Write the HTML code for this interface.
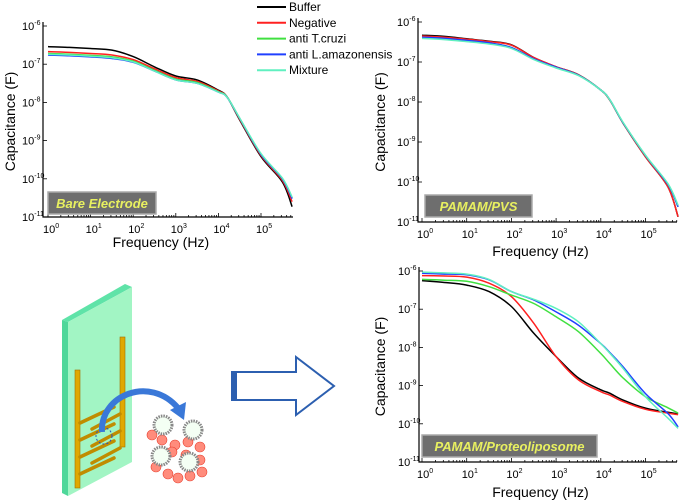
<!DOCTYPE html>
<html><head><meta charset="utf-8"><style>
html,body{margin:0;padding:0;background:#fff;width:685px;height:504px;overflow:hidden;}
svg{display:block;font-family:"Liberation Sans",sans-serif;}
</style></head><body>
<svg id="fig" width="685" height="504" viewBox="0 0 685 504" xmlns="http://www.w3.org/2000/svg">
<g id="illus">
  <polygon points="62,320 125,284 132,287 68,322" fill="#5fe3a8"/>
  <polygon points="62,320 68,322 68,496 62,493" fill="#4fd79a"/>
  <polygon points="68,322 132,287 132,462 68,496" fill="#a2f5c4"/>
  <rect x="75" y="370" width="5" height="118" fill="#e0a800" stroke="#a07000" stroke-width="0.6"/>
  <rect x="120" y="337" width="5" height="110" fill="#e0a800" stroke="#a07000" stroke-width="0.6"/>
  <g stroke="#c08c00" stroke-width="3.5" stroke-linecap="round">
    <line x1="80" y1="423" x2="114" y2="407"/><line x1="92" y1="429" x2="120" y2="414"/>
    <line x1="80" y1="440" x2="114" y2="424"/><line x1="92" y1="446" x2="120" y2="431"/>
    <line x1="80" y1="457" x2="114" y2="441"/><line x1="92" y1="463" x2="120" y2="448"/>
    <line x1="80" y1="474" x2="114" y2="458"/>
  </g>
  <circle cx="104" cy="436" r="8" fill="none" stroke="#2050c0" stroke-width="1" stroke-dasharray="2,2"/>
  <path d="M102,432 C100,395 150,375 178,408" fill="none" stroke="#3a78d8" stroke-width="6"/>
  <polygon points="170,410 186,402 184,420" fill="#3a78d8"/>
  <g fill="#ff8c7c" stroke="#e84030" stroke-width="0.6">
    <circle cx="152" cy="435" r="5"/><circle cx="162" cy="440" r="5"/><circle cx="175" cy="445" r="5"/><circle cx="188" cy="442" r="5"/><circle cx="200" cy="447" r="5"/>
    <circle cx="156" cy="467" r="5"/><circle cx="168" cy="474" r="5"/><circle cx="178" cy="478" r="5"/><circle cx="190" cy="476" r="5"/><circle cx="202" cy="472" r="5"/>
    <circle cx="172" cy="452" r="5"/><circle cx="186" cy="455" r="5"/><circle cx="200" cy="460" r="5"/>
  </g>
  <g fill="#f4fff4" stroke="#888" stroke-width="3" stroke-dasharray="1.5,1">
    <circle cx="163" cy="425" r="9"/><circle cx="193" cy="430" r="9"/><circle cx="161" cy="456" r="9"/><circle cx="189" cy="462" r="9"/>
  </g>
  <g>
    <polygon points="232,372 296,372 296,357 334,386 296,415 296,400 232,400" fill="#fff" stroke="#2c5fb0" stroke-width="2"/>
    <rect x="231" y="372" width="6" height="28" fill="#2c5fb0"/>
  </g>
</g>
<g id="legend"></g>
<g id="charts"></g>
</svg>
<script>
const NS="http://www.w3.org/2000/svg";
const seriesNames=["Buffer","Negative","anti T.cruzi","anti L.amazonensis","Mixture"];
const seriesColors=["#000000","#ff2020","#40e040","#2040ff","#60f0c0"];
const logFreq=[0,0.5,1,1.5,2,2.5,3,3.5,4,4.2,4.5,5,5.5,5.73];
// Bare electrode, log10 capacitance
const bareBuffer=[-6.54,-6.56,-6.59,-6.63,-6.80,-7.07,-7.31,-7.41,-7.68,-7.85,-8.46,-9.42,-10.08,-10.73];
const bareNegative=[-6.67,-6.69,-6.72,-6.76,-6.88,-7.12,-7.35,-7.45,-7.70,-7.85,-8.44,-9.39,-10.04,-10.60];
const bareTcruzi=[-6.72,-6.74,-6.77,-6.81,-6.92,-7.16,-7.39,-7.48,-7.72,-7.85,-8.42,-9.36,-10.00,-10.50];
const bareLama=[-6.76,-6.78,-6.81,-6.85,-6.95,-7.18,-7.41,-7.50,-7.73,-7.86,-8.42,-9.36,-10.00,-10.52];
const bareMix=[-6.74,-6.76,-6.79,-6.83,-6.94,-7.18,-7.41,-7.50,-7.73,-7.86,-8.41,-9.34,-9.98,-10.48];
// PAMAM/PVS
const pvsBuffer=[-6.33,-6.36,-6.42,-6.48,-6.57,-6.89,-7.12,-7.32,-7.70,-7.95,-8.53,-9.37,-10.12,-10.87];
const pvsNegative=[-6.35,-6.38,-6.43,-6.49,-6.58,-6.89,-7.12,-7.32,-7.70,-7.95,-8.53,-9.37,-10.12,-10.87];
const pvsTcruzi=[-6.39,-6.42,-6.47,-6.53,-6.64,-6.93,-7.14,-7.33,-7.70,-7.94,-8.52,-9.34,-10.06,-10.62];
const pvsLama=[-6.38,-6.41,-6.46,-6.52,-6.64,-6.92,-7.13,-7.33,-7.70,-7.94,-8.52,-9.34,-10.06,-10.62];
const pvsMix=[-6.41,-6.44,-6.49,-6.55,-6.66,-6.94,-7.15,-7.34,-7.70,-7.94,-8.51,-9.33,-10.04,-10.58];
// PAMAM/Proteoliposome
const proBuffer=[-6.25,-6.30,-6.37,-6.54,-6.93,-7.63,-8.24,-8.80,-9.11,-9.20,-9.38,-9.59,-9.70,-9.74];
const proNegative=[-6.12,-6.13,-6.16,-6.32,-6.67,-7.37,-8.24,-8.85,-9.16,-9.25,-9.42,-9.62,-9.72,-9.76];
const proTcruzi=[-6.22,-6.24,-6.27,-6.41,-6.63,-6.85,-7.20,-7.59,-8.16,-8.42,-8.80,-9.29,-9.58,-9.72];
const proLama=[-6.06,-6.08,-6.10,-6.23,-6.54,-6.76,-7.07,-7.42,-7.90,-8.13,-8.51,-9.21,-9.73,-10.08];
const proMix=[-6.03,-6.05,-6.08,-6.22,-6.54,-6.74,-6.98,-7.33,-7.90,-8.15,-8.55,-9.29,-9.85,-10.12];
const xTicks=[0,1,2,3,4,5];
const yTicks=[-6,-7,-8,-9,-10,-11];

const panels=[
 {name:"bare-electrode",ax:43,x0:48,xd:42.6,y0:26,yd:38.2,xEnd:293,label:"Bare Electrode",box:[48,192,108,22],xl:247,yl:15,data:[bareBuffer,bareNegative,bareTcruzi,bareLama,bareMix]},
 {name:"pamam-pvs",ax:418,x0:422,xd:44.7,y0:22,yd:40,xEnd:677,label:"PAMAM/PVS",box:[425,195,107,22],xl:256,yl:385,data:[pvsBuffer,pvsNegative,pvsTcruzi,pvsLama,pvsMix]},
 {name:"pamam-proteoliposome",ax:419,x0:422,xd:44.7,y0:271,yd:38.2,xEnd:677,label:"PAMAM/Proteoliposome",box:[422,435,175,22],xl:497,yl:385,data:[proBuffer,proNegative,proTcruzi,proLama,proMix]}
];
function mk(tag,attrs,parent){const e=document.createElementNS(NS,tag);for(const k in attrs)e.setAttribute(k,attrs[k]);parent.appendChild(e);return e;}
function smooth(pts){let d="M"+pts[0][0].toFixed(1)+","+pts[0][1].toFixed(1);
 for(let i=0;i<pts.length-1;i++){const p0=pts[i-1]||pts[i],p1=pts[i],p2=pts[i+1],p3=pts[i+2]||p2;
  const c1=[p1[0]+(p2[0]-p0[0])/6,p1[1]+(p2[1]-p0[1])/6],c2=[p2[0]-(p3[0]-p1[0])/6,p2[1]-(p3[1]-p1[1])/6];
  d+="C"+c1[0].toFixed(1)+","+c1[1].toFixed(1)+" "+c2[0].toFixed(1)+","+c2[1].toFixed(1)+" "+p2[0].toFixed(1)+","+p2[1].toFixed(1);}
 return d;}
const root=document.getElementById("charts");
panels.forEach(p=>{
 const X=v=>p.x0+v*p.xd, Y=v=>p.y0+(-6-v)*p.yd;
 const g=mk("g",{},root);
 
 
 const yb=Y(-11);
 const ax=mk("path",{d:"M"+p.ax+","+(p.y0-4)+"V"+yb+"H"+p.xEnd,stroke:"#000","stroke-width":1.2,fill:"none"},g);
 
 
 for(let dec=0;dec<6;dec++)for(let m=1;m<10;m++){const lx=dec+Math.log10(m);if(lx>5.75)continue;const x=X(lx);
  mk("line",{x1:x,x2:x,y1:yb,y2:yb-(m==1?4:2),stroke:"#000","stroke-width":0.8},g);}
 xTicks.forEach(t=>{const tx=mk("text",{x:X(t)-5,y:yb+16,"font-size":11},g);
  
  
  tx.textContent="10";const s=mk("tspan",{dy:-5,"font-size":7},tx);s.textContent=String(t);});
 yTicks.forEach(t=>{const y=Y(t);mk("line",{x1:p.ax,x2:p.ax+4,y1:y,y2:y,stroke:"#000","stroke-width":0.8},g);
  const tx=mk("text",{x:p.ax-21,y:y+4,"font-size":11},g);
  
  
  tx.textContent="10";const s=mk("tspan",{dy:-5,"font-size":7},tx);s.textContent=String(t);});
 const xl=mk("text",{x:(p.x0+X(5.3))/2,y:p.xl,"font-size":14,"text-anchor":"middle"},g);
 
 
 xl.textContent="Frequency (Hz)";
 const cy=(p.y0+yb)/2;
 const yl=mk("text",{x:p.yl,y:cy,"font-size":14,"text-anchor":"middle",transform:"rotate(-90 "+p.yl+" "+cy+")"},g);
 
 
 yl.textContent="Capacitance (F)";
 const b=p.box;
 const br=mk("rect",{x:b[0],y:b[1],width:b[2],height:b[3],fill:"#6e6e6e",stroke:"#aaa","stroke-width":1.5},g);
 
 
 const bt=mk("text",{x:b[0]+b[2]/2,y:b[1]+16,"font-size":13,"font-weight":"bold","font-style":"italic",fill:"#e8f060","text-anchor":"middle"},g);
 
 
 bt.textContent=p.label;
 p.data.forEach((arr,i)=>{
  const pts=logFreq.map((f,j)=>[X(f),Y(arr[j])]);
  const ln=mk("path",{d:smooth(pts),stroke:seriesColors[i],"stroke-width":1.5,fill:"none"},g);
  
  
 });
});
const leg=document.getElementById("legend");
seriesNames.forEach((n,i)=>{const y=7+i*15.8;
 const e=mk("g",{},leg);
 
 
 mk("line",{x1:257,x2:286,y1:y,y2:y,stroke:seriesColors[i],"stroke-width":2},e);
 const t=mk("text",{x:289,y:y+4,"font-size":12},e);t.textContent=n;});
</script>
</body></html>
